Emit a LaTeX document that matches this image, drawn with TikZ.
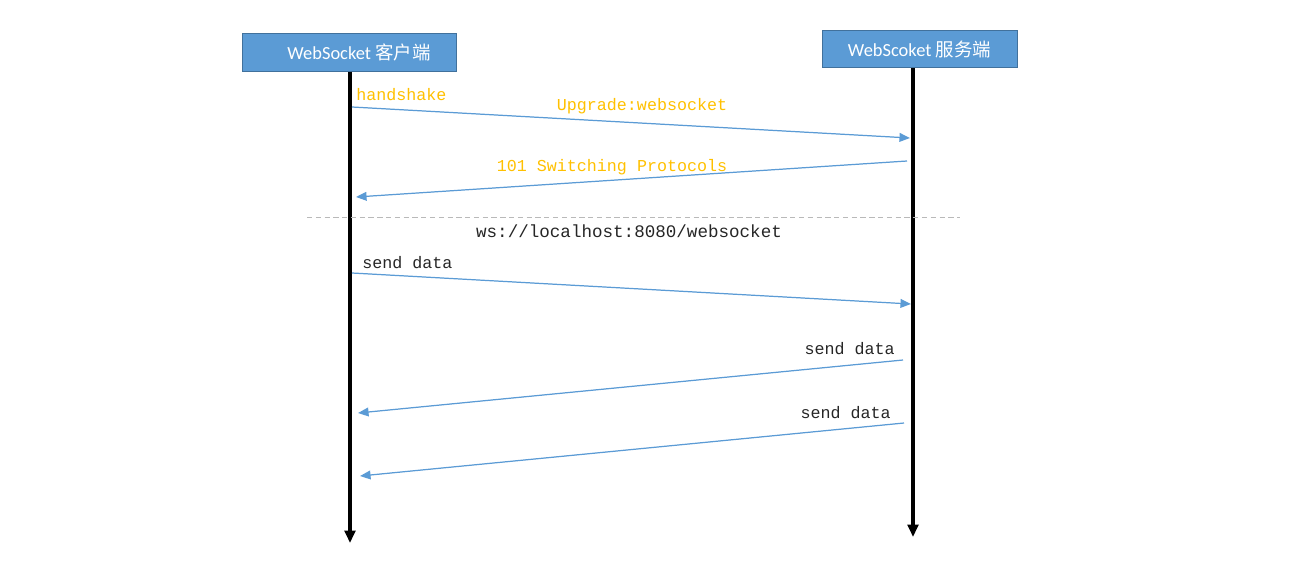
\documentclass[tikz,border=0pt]{standalone}
\usepackage{fontspec}
\setsansfont{Carlito}
\setmonofont{Liberation Mono}
\newfontfamily\cjk{Noto Sans CJK SC}
\usetikzlibrary{arrows.meta}

\definecolor{boxblue}{HTML}{5B9BD5}
\definecolor{boxline}{HTML}{41719C}
\definecolor{msgblue}{HTML}{5B9BD5}
\definecolor{hsyellow}{HTML}{FFC000}

\tikzset{
	actor/.style={draw=boxline, fill=boxblue, text=white, font=\sffamily\fontsize{10.5}{12}\selectfont, minimum height=0.75cm, inner sep=0pt},
	lifeline/.style={line width=1.8pt, -{Triangle[width=6pt,length=7pt]}},
	msg/.style={draw=msgblue, line width=0.7pt, -{Triangle[width=5pt,length=6pt]}, fill=msgblue},
	hslabel/.style={font=\ttfamily\fontsize{9.5}{11}\selectfont, text=hsyellow, inner sep=0pt},
	datalabel/.style={font=\ttfamily\fontsize{9.5}{11}\selectfont, text=black!85, inner sep=0pt},
}

\begin{document}
\begin{tikzpicture}[x=0.02cm, y=-0.02cm]
	\useasboundingbox (0,0) rectangle (1308,575);
	% actors
	\node[actor, minimum width=4.28cm] (client) at (349,52.5) {\hspace*{0.4cm}WebSocket {\cjk 客户端}};
	\node[actor, minimum width=3.9cm] (server) at (919.5,49) {WebScoket {\cjk 服务端}};
	% lifelines
	\coordinate (cbottom) at (350,543);
	\coordinate (sbottom) at (913,537);
	\draw[lifeline] (client.south -| cbottom) -- (cbottom);
	\draw[lifeline] (server.south -| sbottom) -- (sbottom);
	% handshake
	\coordinate (c1) at (352,107); \coordinate (s1) at (910,138);
	\coordinate (s2) at (907,161); \coordinate (c2) at (356,197);
	\draw[msg] (c1) -- (s1);
	\draw[msg] (s2) -- (c2);
	\node[hslabel, anchor=west] (hs) at (356,95) {handshake};
	\node[hslabel] (upgrade) at (642,106) {Upgrade:websocket};
	\node[hslabel] (switching) at (612,167) {101 Switching Protocols};
	% connection
	\coordinate (dleft) at (307,217); \coordinate (dright) at (960,217);
	\draw[gray!55, line width=0.5pt, dash pattern=on 3pt off 2pt] (dleft) -- (dright);
	\node[datalabel, font=\ttfamily\fontsize{10}{12}\selectfont] (url) at (629,231) {ws://localhost:8080/websocket};
	% data frames
	\coordinate (c3) at (352,273); \coordinate (s3) at (911,304);
	\coordinate (s4) at (903,360); \coordinate (c4) at (358,413);
	\coordinate (s5) at (904,423); \coordinate (c5) at (360,476);
	\draw[msg] (c3) -- (s3);
	\draw[msg] (s4) -- (c4);
	\draw[msg] (s5) -- (c5);
	\node[datalabel, anchor=west] (d1) at (362,263) {send data};
	\node[datalabel, anchor=east] (d2) at (895,349) {send data};
	\node[datalabel, anchor=east] (d3) at (891,413) {send data};
\end{tikzpicture}
\end{document}
